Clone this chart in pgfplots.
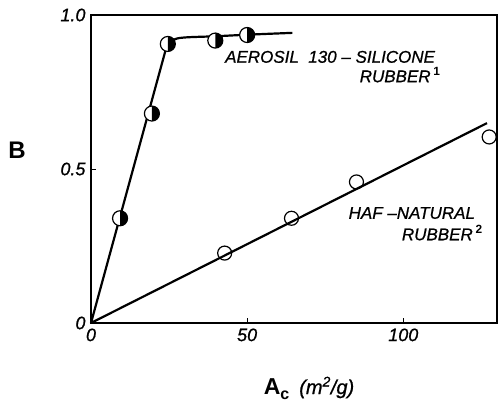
\documentclass[border=0pt]{standalone}
\usepackage{fontspec}
\setmainfont{Liberation Sans}[ItalicFeatures={FakeBold=0.8}]
\usepackage{pgfplots}
\pgfplotsset{compat=1.18}
\pgfdeclareplotmark{halfc}{%
  \pgfpathcircle{\pgfpointorigin}{\pgfplotmarksize}%
  \pgfsetfillcolor{white}\pgfusepath{fill}%
  \pgfpathmoveto{\pgfpoint{0pt}{\pgfplotmarksize}}%
  \pgfpatharc{90}{-90}{\pgfplotmarksize}%
  \pgfpathclose
  \pgfsetfillcolor{black}\pgfusepath{fill}%
  \pgfpathcircle{\pgfpointorigin}{\pgfplotmarksize}%
  \pgfusepath{stroke}%
}
\begin{document}
\begin{tikzpicture}
\path[use as bounding box] (-91pt,-80pt) rectangle (408pt,323pt);
\begin{axis}[
  at={(0pt,0pt)}, anchor=south west,
  scale only axis, width=406pt, height=308pt,
  xmin=0, xmax=130, ymin=0, ymax=1,
  axis line style={line width=1.4pt},
  xtick={0,50,100}, xticklabels={0,50,100},
  ytick={0,0.5,1}, yticklabels={0,0.5,1.0},
  tick pos=left, tick align=inside, major tick length=5pt,
  tick style={line width=0.8pt, black},
  /pgf/number format/assume math mode=true,
  ticklabel style={font=\fontsize{18}{18}\selectfont\itshape},
  xticklabel style={yshift=-2pt},
  yticklabel style={xshift=-2pt},
  clip=false,
]
% Aerosil 130 - silicone rubber
\addplot[line width=2.2pt, black] coordinates {(0,0) (24.4,0.905)};
\addplot[line width=2.2pt, black, smooth, tension=0.6] coordinates {(24.4,0.905) (26.5,0.92) (30,0.927) (40,0.931) (50,0.936) (64.5,0.942)};
\addplot[only marks, mark=halfc, mark size=7.5pt, line width=1.2pt, black] coordinates {
  (9.3,0.34) (19.5,0.68) (24.6,0.906) (39.8,0.917) (50.0,0.935)};
% HAF - natural rubber
\addplot[line width=2.2pt, black] coordinates {(0,0) (126.8,0.649)};
\addplot[only marks, mark=o, mark size=7pt, line width=1.2pt, black, mark options={fill=white}] coordinates {
  (42.8,0.227) (64.2,0.34) (85,0.458) (127.5,0.604)};
% annotations
\node[anchor=east, font=\fontsize{17}{17}\selectfont\itshape, inner sep=0pt] at (axis cs:110.2,0.864) {AEROSIL\ \ 130 -- SILICONE};
\node[anchor=east, font=\fontsize{17}{17}\selectfont\itshape, inner sep=0pt] at (axis cs:112,0.805) {RUBBER\,\textsuperscript{\upshape\bfseries 1}};
\node[anchor=east, font=\fontsize{17}{17}\selectfont\itshape, inner sep=0pt] at (axis cs:123,0.357) {HAF --NATURAL};
\node[anchor=east, font=\fontsize{17}{17}\selectfont\itshape, inner sep=0pt] at (axis cs:125.5,0.292) {RUBBER\,\textsuperscript{\upshape\bfseries 2}};
\node[font=\fontsize{24}{24}\selectfont\bfseries, inner sep=0pt] at (axis cs:-23.7,0.562) {B};
\node[inner sep=0pt] at (axis cs:69.8,-0.211) {{\fontsize{23}{23}\selectfont\bfseries A}\raisebox{-5pt}{\fontsize{16}{16}\selectfont\bfseries c}\hspace{10pt}{\fontsize{20}{20}\selectfont\itshape (m\textsuperscript{2}/g)}};
\end{axis}
\end{tikzpicture}
\end{document}
